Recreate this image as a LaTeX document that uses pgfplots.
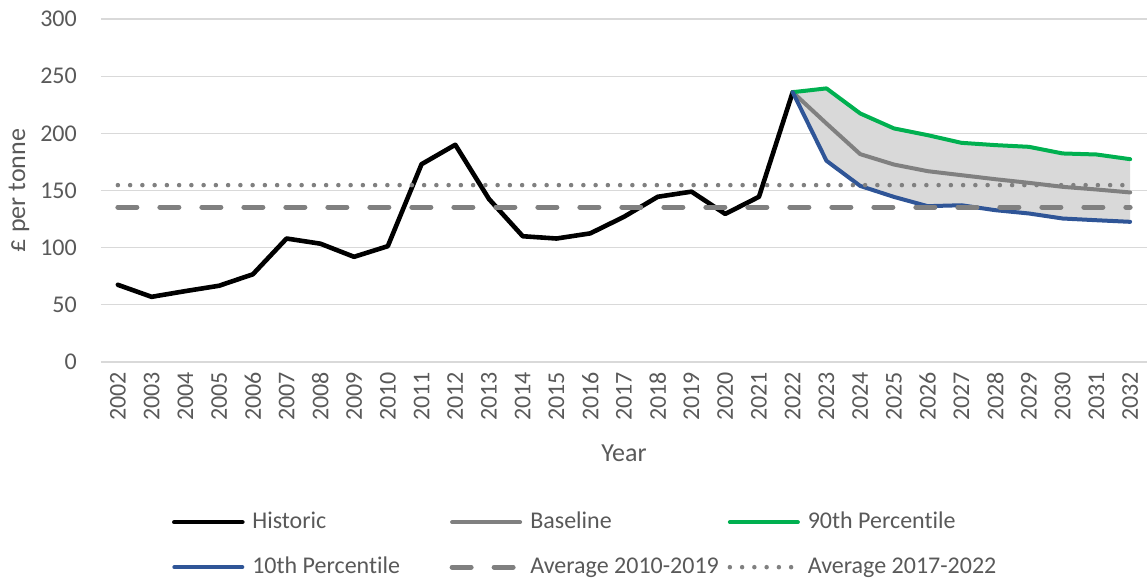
\documentclass[border=0pt]{standalone}
\usepackage{pgfplots}
\pgfplotsset{compat=1.18}
\usepackage{pgfplotstable}
\usepgfplotslibrary{fillbetween}
\usetikzlibrary{calc}
\usepackage{fontspec}
\setmainfont{Carlito}[Ligatures=NoCommon]
\definecolor{txt}{HTML}{595959}
\definecolor{gridc}{HTML}{D9D9D9}
\definecolor{basec}{HTML}{808080}
\definecolor{greenc}{HTML}{00B050}
\definecolor{bluec}{HTML}{2F5597}
\definecolor{fillc}{HTML}{D9D9D9}

\pgfplotstableread{
year val
2002 67.5
2003 57
2004 62
2005 66.7
2006 76.7
2007 108
2008 103.5
2009 92
2010 101.3
2011 173
2012 190
2013 142.5
2014 110
2015 108
2016 112.5
2017 127
2018 144.5
2019 149
2020 129.5
2021 144.5
2022 236
}\historic

\pgfplotstableread{
year base p90 p10
2022 236 236 236
2023 208.6 239.3 176
2024 181.8 217.4 154
2025 172.7 204.3 144.4
2026 166.9 198.4 136.3
2027 163.4 191.7 137.1
2028 159.9 189.7 132.8
2029 156.7 188.2 129.9
2030 153.2 182.4 125.5
2031 150.9 181.5 124
2032 148.3 177.4 122.6
}\forecast

\begin{document}
\fontsize{24pt}{28pt}\selectfont
\begin{tikzpicture}
\begin{axis}[
  name=ax,
  scale only axis,
  width=1046pt, height=343pt,
  xmin=2001.5, xmax=2032.5,
  ymin=0, ymax=300,
  ytick={0,50,...,300},
  xtick={2002,2003,...,2032},
  /pgf/number format/assume math mode=true,
  /pgf/number format/1000 sep={},
  axis line style={draw=none},
  tick style={draw=none},
  ymajorgrids=true,
  major grid style={draw=gridc, line width=1.3pt},
  ticklabel style={text=txt, font=\fontsize{24pt}{28pt}\selectfont, inner sep=0pt},
  xticklabel style={rotate=90, anchor=east},
  yticklabel style={anchor=east},
  xticklabel shift=10pt,
  yticklabel shift=24pt,
  xlabel={Year},
  label style={text=txt, font=\fontsize{26pt}{30pt}\selectfont, inner sep=0pt},
  xlabel style={at={(axis description cs:0.5,-0.265)}, anchor=center},
  legend style={
    at={(axis description cs:0.0679,-0.432)}, anchor=north west,
    draw=none, fill=none, inner sep=0pt, outer sep=0pt,
    font=\fontsize{24pt}{28pt}\selectfont, text=txt,
    nodes={inner sep=0pt, text height=18pt, text depth=6pt},
    row sep=21pt,
    /tikz/every odd column/.style={column sep=7.7pt},
    /tikz/every even column/.style={column sep=0pt},
  },
  legend cell align=left,
  legend columns=3,
  legend image code/.code={\draw[#1] (0pt,0pt) -- (68pt,0pt);},
]
% invisible boundary paths for the shaded band
\addplot[draw=none, name path=upper, forget plot] table[x=year, y=p90] {\forecast};
\addplot[draw=none, name path=lower, forget plot] table[x=year, y=p10] {\forecast};
\addplot[fillc, forget plot] fill between[of=upper and lower];

\addplot[black, line width=4.6pt, line join=round, line cap=round] table[x=year, y=val] {\historic};
\addlegendentry{\makebox[197.3pt][l]{Historic}}
\addplot[basec, line width=4pt, line join=round, line cap=round] table[x=year, y=base] {\forecast};
\addlegendentry{\makebox[197.3pt][l]{Baseline}}
\addplot[greenc, line width=4pt, line join=round, line cap=round] table[x=year, y=p90] {\forecast};
\addlegendentry{\makebox[197.3pt][l]{90th Percentile}}
\addplot[bluec, line width=4pt, line join=round, line cap=round] table[x=year, y=p10] {\forecast};
\addlegendentry{\makebox[197.3pt][l]{10th Percentile}}
\addplot[basec, line width=5pt, line cap=round, dash pattern=on 19pt off 23pt] coordinates {(2002,135.4) (2032,135.4)};
\addlegendentry{\makebox[197.3pt][l]{Average 2010-2019}}
\addplot[basec, line width=4.5pt, line cap=round, dash pattern=on 0pt off 12.25pt] coordinates {(2002,154.7) (2032,154.7)};
\addlegendentry{\makebox[197.3pt][l]{Average 2017-2022}}
\end{axis}
\node[rotate=90, anchor=center, inner sep=0pt, text=txt, font=\fontsize{26pt}{30pt}\selectfont]
  at ($(ax.west)+(-82pt,0pt)$) {£ per tonne};
\pgfresetboundingbox
\path ($(ax.south west)+(-101pt,-222pt)$) rectangle ($(ax.north east)+(0pt,19pt)$);
\end{tikzpicture}
\end{document}
